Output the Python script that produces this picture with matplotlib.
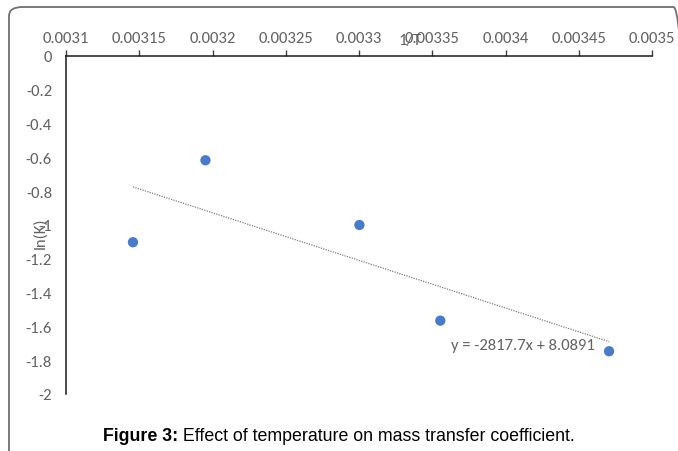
import matplotlib.pyplot as plt
from matplotlib.patches import FancyBboxPatch

inv_T = [0.0031457, 0.0031952, 0.0033003, 0.0033555, 0.0034707]
ln_K = [-1.102, -0.617, -1.0, -1.566, -1.747]
slope = -2817.7
intercept = 8.0891
x_ticks = [0.0031, 0.00315, 0.0032, 0.00325, 0.0033, 0.00335, 0.0034, 0.00345, 0.0035]
x_labels = ["0.0031", "0.00315", "0.0032", "0.00325", "0.0033", "0.00335", "0.0034", "0.00345", "0.0035"]
y_ticks = [0, -0.2, -0.4, -0.6, -0.8, -1, -1.2, -1.4, -1.6, -1.8, -2]
y_labels = ["0", "-0.2", "-0.4", "-0.6", "-0.8", "-1", "-1.2", "-1.4", "-1.6", "-1.8", "-2"]

grey = "#636363"
plt.rcParams["font.family"] = ["Carlito", "Liberation Sans", "DejaVu Sans"]
fs = 12

fig = plt.figure(figsize=(6.78, 4.52), dpi=100)
ax = fig.add_axes([66 / 678, 1 - 395 / 452, 586 / 678, 338 / 452])

# trendline
tx = [inv_T[0], inv_T[-1]]
ty = [slope * v + intercept for v in tx]
ax.plot(tx, ty, color="#7f7f7f", linestyle=(0, (1, 1)), linewidth=0.9, zorder=2)
ax.scatter(inv_T, ln_K, s=55, color="#4a7bc4", zorder=3, edgecolors="none")

ax.set_xlim(0.0031, 0.0035)
ax.set_ylim(-2, 0)
ax.set_xticks(x_ticks, x_labels)
ax.set_yticks(y_ticks, y_labels)
ax.xaxis.tick_top()
ax.tick_params(axis="x", direction="out", length=4, width=1, color="#404040",
               labelsize=fs, labelcolor=grey, pad=4)
ax.tick_params(axis="y", length=0, labelsize=fs, labelcolor=grey, pad=10)
for s in ["right", "bottom"]:
    ax.spines[s].set_visible(False)
for s in ["left", "top"]:
    ax.spines[s].set_color("#1a1a1a")
    ax.spines[s].set_linewidth(1.1)

ax.text(0.003412, -1.71, "y = -2817.7x + 8.0891", color=grey, fontsize=fs,
        ha="center", va="center")
fig.text(410 / 678, 1 - 41 / 452, "1/T", color=grey, fontsize=fs, ha="center", va="center")
fig.text(40 / 678, 1 - 233 / 452, "ln(K)", color=grey, fontsize=fs, ha="center",
         va="center", rotation=90)

# outer frame and caption
frame = FancyBboxPatch((9 / 678, -0.05), 1.0, 1 - 8 / 452 + 0.05,
                       boxstyle="round,pad=0,rounding_size=0.02",
                       transform=fig.transFigure, fill=False, edgecolor="#707070",
                       linewidth=1.3, clip_on=False)
fig.patches.append(frame)
cap1 = fig.text(103 / 678, 1 - 437 / 452, "Figure 3:", ha="left", va="center",
                fontsize=12.8, fontweight="bold", family=["Liberation Sans"])
ax.annotate(" Effect of temperature on mass transfer coefficient.", xy=(1, 0.5),
            xycoords=cap1, ha="left", va="center", fontsize=12.8,
            family=["Liberation Sans"], annotation_clip=False)

fig.savefig("out.png", dpi=100)
